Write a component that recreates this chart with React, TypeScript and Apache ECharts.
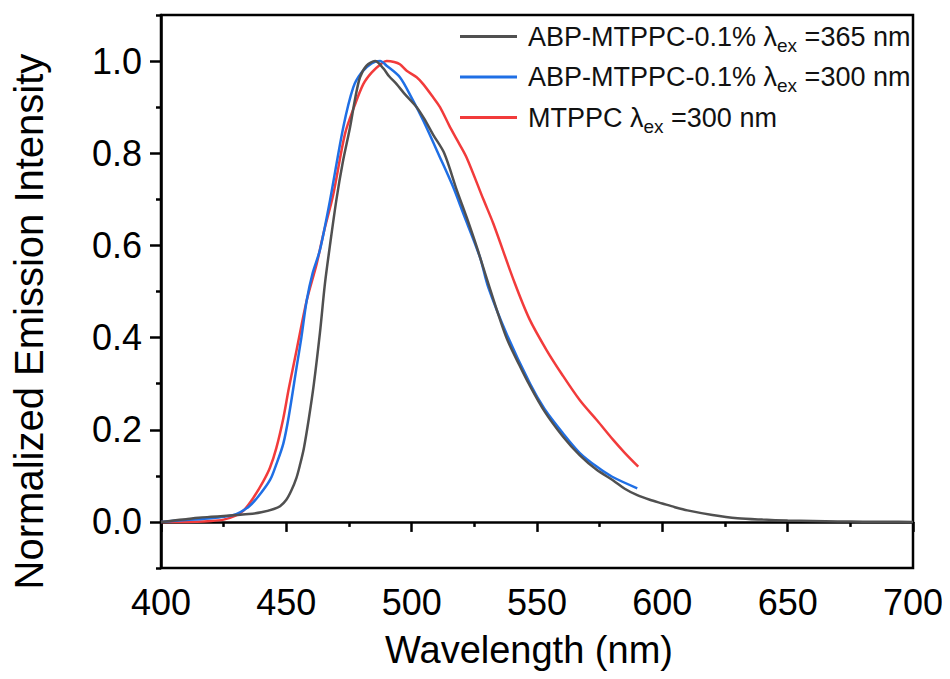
import React, { useEffect, useRef } from "react";
import * as echarts from "echarts";

// ---- Data ----
const seriesNames = [
  "ABP-MTPPC-0.1% λex =365 nm",
  "ABP-MTPPC-0.1% λex =300 nm",
  "MTPPC λex =300 nm",
];

const blackX = [400, 405, 410, 415, 420, 425, 430, 435, 440, 445, 447.5, 450, 452, 454, 455.5, 457, 459, 461, 463.4, 465.4, 467.4, 470, 472.5, 475.4, 477.5, 479.4, 482, 485.4, 488.7, 491, 494, 497, 502, 505, 508.6, 513, 518, 522, 526, 531, 537.8, 543, 547.2, 553, 560.4, 567, 573.8, 580.4, 585, 590, 595, 600, 605, 610, 620, 630, 640, 650, 660, 670, 680, 690, 700];
const blackY = [0.0, 0.003, 0.006, 0.009, 0.011, 0.013, 0.015, 0.017, 0.021, 0.028, 0.034, 0.048, 0.068, 0.095, 0.125, 0.16, 0.225, 0.30, 0.41, 0.517, 0.60, 0.70, 0.78, 0.856, 0.92, 0.965, 0.99, 1.0, 0.984, 0.967, 0.95, 0.93, 0.90, 0.875, 0.84, 0.80, 0.72, 0.66, 0.596, 0.51, 0.40, 0.34, 0.295, 0.24, 0.185, 0.145, 0.113, 0.09, 0.072, 0.058, 0.048, 0.040, 0.032, 0.025, 0.015, 0.008, 0.005, 0.003, 0.002, 0.001, 0.0005, 0.0002, 0.0];

const blueX = [400, 410, 420, 425, 430, 435, 438.8, 443.5, 446, 448.8, 451, 454.1, 456, 458.1, 460.5, 463.4, 467.4, 472.7, 476.7, 480, 484, 487.4, 490, 495.3, 500, 504.6, 511.3, 516.6, 520.6, 527.2, 530.5, 537.8, 547.2, 553, 560.4, 567, 573.8, 580, 590];
const blueY = [0.0, 0.004, 0.008, 0.011, 0.017, 0.033, 0.055, 0.091, 0.125, 0.17, 0.23, 0.336, 0.40, 0.48, 0.54, 0.59, 0.697, 0.856, 0.943, 0.975, 0.995, 1.0, 0.99, 0.965, 0.92, 0.871, 0.791, 0.726, 0.669, 0.575, 0.51, 0.409, 0.30, 0.245, 0.192, 0.15, 0.12, 0.098, 0.073];

const redX = [400, 410, 420, 425, 430, 433, 436.8, 440.8, 443.5, 446, 448.8, 451, 454.1, 458.1, 462.1, 465, 468.7, 473.4, 477, 480.7, 484, 488, 490, 493, 495.3, 498, 502, 504.6, 508.6, 511.3, 515, 518, 521.9, 528.6, 532.6, 541, 547, 553.8, 560, 567.1, 574, 580.4, 585, 590.4];
const redY = [0.0, 0.0, 0.002, 0.005, 0.014, 0.025, 0.052, 0.088, 0.118, 0.16, 0.225, 0.29, 0.373, 0.48, 0.56, 0.63, 0.71, 0.842, 0.90, 0.95, 0.975, 0.995, 1.0, 0.998, 0.993, 0.979, 0.965, 0.95, 0.921, 0.90, 0.86, 0.83, 0.791, 0.70, 0.647, 0.52, 0.44, 0.373, 0.32, 0.264, 0.22, 0.178, 0.15, 0.12];

const xTicks = [400, 450, 500, 550, 600, 650, 700];
const yMajorTicks = [0, 0.2, 0.4, 0.6, 0.8, 1.0];
const yMinorTicks = [-0.1, 0.1, 0.3, 0.5, 0.7, 0.9, 1.1];

const colors = ["#505050", "#1f6fe5", "#f23b3b"];

const zip = (xs: number[], ys: number[]) => xs.map((x, i) => [x, ys[i]]);

const FONT = "'Liberation Sans', Arial, sans-serif";

export default function App() {
  const ref = useRef<HTMLDivElement>(null);
  useEffect(() => {
    if (!ref.current) return;
    const chart = echarts.init(ref.current, undefined, { renderer: "svg" });
    const datasets = [zip(blackX, blackY), zip(blueX, blueY), zip(redX, redY)];
    const axisLine = { show: true, lineStyle: { color: "#000", width: 2.5 } };
    chart.setOption({
      animation: false,
      backgroundColor: "#fff",
      textStyle: { fontFamily: FONT },
      grid: {
        left: 161,
        right: 37,
        top: 15,
        bottom: 111,
        containLabel: false,
        outerBoundsMode: "none",
        show: true,
        borderColor: "#000",
        borderWidth: 2.5,
        backgroundColor: "transparent",
      },
      legend: {
        orient: "vertical",
        left: 460,
        top: 23,
        padding: 0,
        icon: "rect",
        itemWidth: 57,
        itemHeight: 3,
        itemGap: 9,
        data: seriesNames,
        formatter: (name: string) => {
          const [pre, post] = name.split("λex");
          return `{a|${pre}λ}{s|ex}{m|${post}}`;
        },
        textStyle: {
          color: "#111",
          fontFamily: FONT,
          rich: {
            a: { fontSize: 27, lineHeight: 36, color: "#111", fontFamily: FONT, padding: [0, 0, 0, 6] },
            m: { fontSize: 27, lineHeight: 36, color: "#111", fontFamily: FONT },
            s: { fontSize: 19, lineHeight: 16, verticalAlign: "bottom", color: "#111", fontFamily: FONT },
          },
        },
      },
      xAxis: {
        type: "value",
        min: 400,
        max: 700,
        interval: 50,
        name: "Wavelength (nm)",
        nameLocation: "middle",
        nameGap: 63,
        nameTextStyle: { fontSize: 38, color: "#000", fontFamily: FONT, padding: [0, 16, 0, 0] },
        axisLine,
        axisTick: { show: true, inside: false, length: 10, lineStyle: { color: "#000", width: 2.5 } },
        minorTick: { show: true, splitNumber: 2, length: 5, lineStyle: { color: "#000", width: 2.5 } },
        axisLabel: {
          fontSize: 36,
          color: "#000",
          fontFamily: FONT,
          margin: 16,
          customValues: xTicks,
        },
        splitLine: { show: false },
      },
      yAxis: [
        {
          type: "value",
          min: -0.1,
          max: 1.1,
          position: "left",
          name: "Normalized Emission Intensity",
          nameLocation: "middle",
          nameGap: 112,
          nameTextStyle: { fontSize: 40, color: "#000", fontFamily: FONT, padding: [0, 60, 0, 0] },
          axisLine,
          axisTick: {
            show: true,
            inside: false,
            length: 11,
            customValues: yMajorTicks,
            lineStyle: { color: "#000", width: 2.5 },
          },
          axisLabel: {
            fontSize: 36,
            color: "#000",
            fontFamily: FONT,
            margin: 19,
            customValues: yMajorTicks,
            formatter: (v: number) => v.toFixed(1),
          },
          splitLine: { show: false },
        },
        {
          type: "value",
          min: -0.1,
          max: 1.1,
          position: "left",
          offset: 0,
          axisLine: { show: false },
          axisTick: {
            show: true,
            inside: false,
            length: 5,
            customValues: yMinorTicks,
            lineStyle: { color: "#000", width: 2.5 },
          },
          axisLabel: { show: false },
          splitLine: { show: false },
        },
      ],
      series: seriesNames.map((name, i) => ({
        name,
        type: "line",
        data: datasets[i],
        showSymbol: false,
        symbol: "none",
        smooth: 0.3,
        yAxisIndex: 0,
        lineStyle: { color: colors[i], width: 2.5 },
        itemStyle: { color: colors[i] },
        z: 3 - i,
      })),
    });
    return () => chart.dispose();
  }, []);
  return <div ref={ref} style={{ width: 950, height: 679, margin: -8 }} />;
}
